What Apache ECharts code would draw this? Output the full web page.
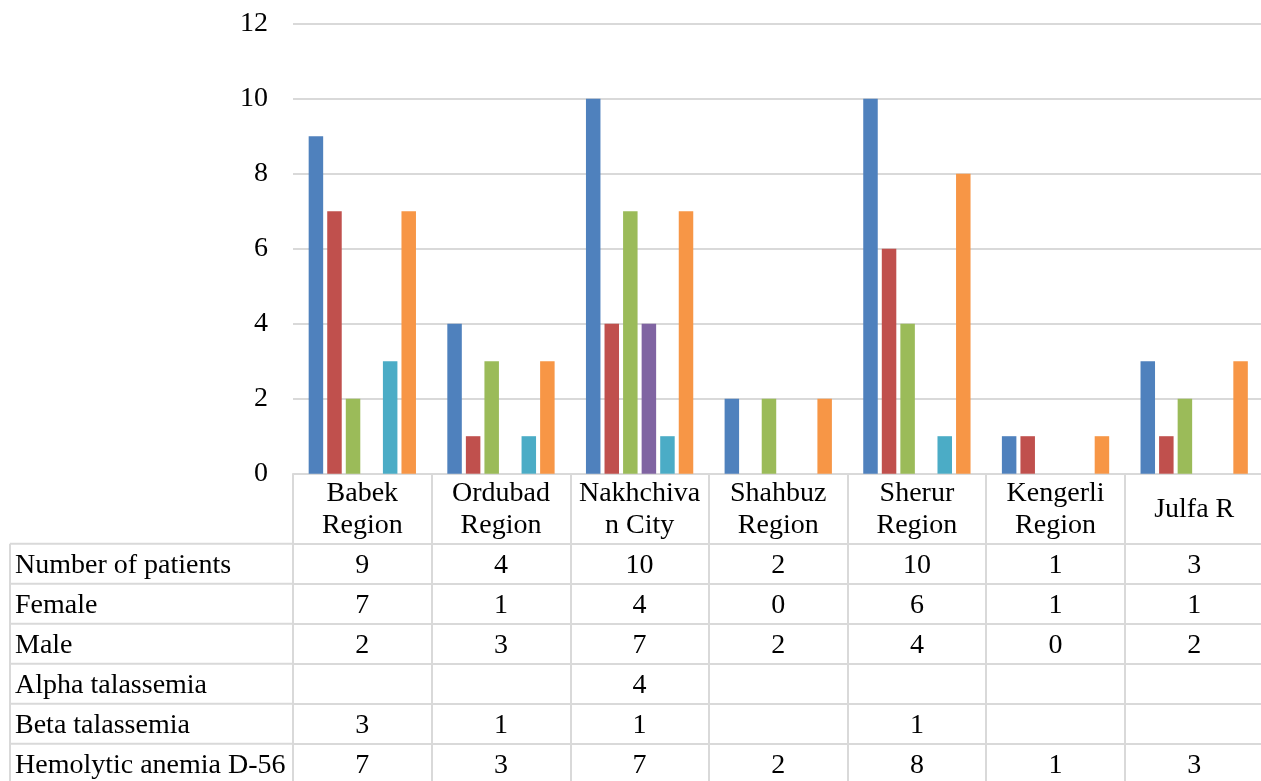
<!DOCTYPE html>
<html>
<head>
<meta charset="utf-8">
<script src="https://cdn.jsdelivr.net/npm/echarts@6/dist/echarts.min.js"></script>
<style>
  html, body { margin: 0; padding: 0; background: #fff; }
  #main { width: 1261px; height: 781px; }
</style>
</head>
<body>
<div id="main"></div>
<script>
// categories (regions)
const regions = ['Babek\nRegion', 'Ordubad\nRegion', 'Nakhchiva\nn City', 'Shahbuz\nRegion',
  'Sherur\nRegion', 'Kengerli\nRegion', 'Julfa R'];

// series values (null = empty cell)
const patients = [9, 4, 10, 2, 10, 1, 3];
const female = [7, 1, 4, 0, 6, 1, 1];
const male = [2, 3, 7, 2, 4, 0, 2];
const alpha = [null, null, 4, null, null, null, null];
const beta = [3, 1, 1, null, 1, null, null];
const hemolytic = [7, 3, 7, 2, 8, 1, 3];

const rowNames = ['Number of patients', 'Female', 'Male', 'Alpha talassemia',
  'Beta talassemia', 'Hemolytic anemia D-56'];
const rows = [patients, female, male, alpha, beta, hemolytic];
const colors = ['#4F81BD', '#C0504D', '#9BBB59', '#8064A2', '#4BACC6', '#F79646'];

const yTicks = { min: 0, max: 12, interval: 2 };

const FONT = '"Liberation Serif", "Times New Roman", serif';
const LINE = '#d9d9d9';
const gridLeft = 293;
const gridTop = 23.7;
const gridW = 970.5;      // right border falls just outside the picture
const axisY = 473.7;      // pixel of value 0
const headH = 70;         // category label row
const rowH = 40;          // table row height
const H = 781;

const chart = echarts.init(document.getElementById('main'));

// x axes: main category axis + one axis per table row
const xAxes = [{
  type: 'category',
  data: regions,
  axisLine: { lineStyle: { color: LINE, width: 2 } },
  axisTick: { show: true, length: headH, interval: 0, lineStyle: { color: LINE, width: 2 } },
  axisLabel: {
    interval: 0, margin: headH / 2 + 1, verticalAlign: 'middle',
    fontFamily: FONT, fontSize: 28, lineHeight: 32, color: '#000', align: 'center'
  }
}];
rows.forEach((vals, i) => {
  xAxes.push({
    type: 'category',
    data: regions,
    position: 'bottom',
    offset: headH + rowH * i,
    axisLine: { show: true, lineStyle: { color: LINE, width: 2 } },
    axisTick: { show: true, length: rowH, interval: 0, lineStyle: { color: LINE, width: 2 } },
    axisLabel: {
      interval: 0, margin: rowH / 2 + 1.5, verticalAlign: 'middle',
      fontFamily: FONT, fontSize: 28, color: '#000',
      formatter: (v, idx) => (vals[idx] == null ? '' : String(vals[idx]))
    }
  });
});

// left column of the data table (row labels and its borders)
const graphics = [];
rowNames.forEach((name, i) => {
  const top = axisY + headH + rowH * i;
  graphics.push({
    type: 'line', shape: { x1: 10, y1: top, x2: gridLeft, y2: top },
    style: { stroke: LINE, lineWidth: 2 }
  });
  graphics.push({
    type: 'text', x: 15, y: top + rowH / 2 + 1.5,
    style: { text: name, font: '28px ' + FONT, fill: '#000', verticalAlign: 'middle' }
  });
});
graphics.push({
  type: 'line', shape: { x1: 10, y1: axisY + headH, x2: 10, y2: H },
  style: { stroke: LINE, lineWidth: 2 }
});

const series = rows.map((d, i) => ({
  name: rowNames[i],
  type: 'bar',
  data: d,
  xAxisIndex: 0,
  barWidth: 14.5,
  barGap: '28%',
  itemStyle: { color: colors[i] },
  silent: true
}));

chart.setOption({
  animation: false,
  grid: {
    left: gridLeft, top: gridTop, width: gridW, bottom: H - axisY,
    containLabel: false, outerBoundsMode: 'none'
  },
  xAxis: xAxes,
  yAxis: {
    type: 'value',
    min: yTicks.min, max: yTicks.max, interval: yTicks.interval,
    axisLine: { show: false },
    axisTick: { show: false },
    splitLine: { lineStyle: { color: LINE, width: 2 } },
    axisLabel: { fontFamily: FONT, fontSize: 28, color: '#000', margin: 25 }
  },
  graphic: graphics,
  series: series
});
</script>
</body>
</html>
